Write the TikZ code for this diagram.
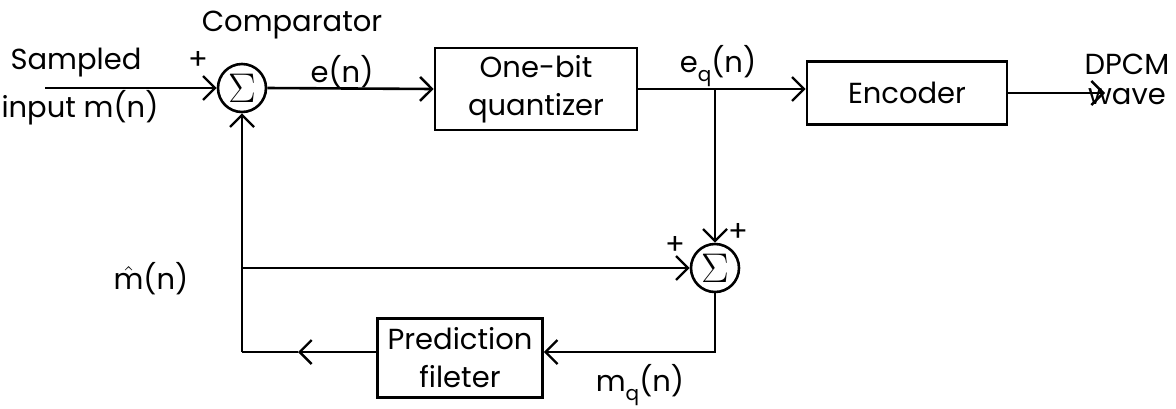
\documentclass[tikz,border=0pt]{standalone}
\usepackage{fontspec}
\setmainfont{Poppins}
\usetikzlibrary{arrows.meta}
\begin{document}
\begin{tikzpicture}[x=0.5pt,y=-0.5pt,
  font=\fontsize{14.5}{19}\selectfont,
  line width=1.3pt,
  blk/.style={draw, line width=1.3pt, inner sep=0pt, align=center},
  sumc/.style={draw, circle, minimum size=24pt, inner sep=0pt, font=\fontsize{21}{21}\selectfont},
  arr/.style={-{Straight Barb[length=6pt,width=12pt,line width=1.2pt]}},
  lbl/.style={inner sep=0pt, align=center}]
\useasboundingbox (0,0) rectangle (1176,408);

% blocks
\node[sumc] (s1) at (242,88) {$\Sigma$};
\node[blk, minimum width=101pt, minimum height=41pt] (q) at (536,89) {One-bit\\quantizer};
\node[blk, minimum width=100pt, minimum height=31.5pt] (enc) at (907,93) {Encoder};
\node[sumc] (s2) at (715,268) {$\Sigma$};
\node[blk, minimum width=82.5pt, minimum height=39.5pt] (pf) at (460,358) {Prediction\\fileter};

% coordinates
\coordinate (in) at (45,88);
\coordinate (out) at (1105,93);
\coordinate (cl) at (242,352);
\coordinate (ma) at (298,352);

% connectors
\draw[arr] (in) -- (s1.west);
\draw[arr] (s1.east) -- (q.west);
\draw[arr] (q.east) -- (q.east -| enc.west);
\draw[arr] (enc.east) -- (out);
\draw[arr] (q.east -| s2.north) -- (s2.north);
\draw[arr] (s2.south) |- ([yshift=3pt]pf.east);
\draw[arr] ([yshift=3pt]pf.west) -- (ma);
\draw (ma) -- (cl);
\draw[arr] (cl) -- (s1.south);
\draw[arr] (s1.south |- s2.west) -- (s2.west);

% labels
\node[lbl] (lcomp) at (292,25) {Comparator};
\node[lbl] (lp1) at (198,60) {+};
\node[lbl] (len) at (342,72) {e(n)};
\node[lbl] (lsamp) at (76,63) {Sampled};
\node[lbl] (linp) at (80,108) {input m(n)};
\node[lbl] (leq) at (718,66) {e\raisebox{-0.55ex}{\fontsize{10}{10}\selectfont q}(n)};
\node[lbl] (ldpcm) at (1127,64) {DPCM};
\node[lbl] (lwave) at (1127,97) {wave};
\node[lbl] (lp2) at (675,245) {+};
\node[lbl] (lp3) at (738,232) {+};
\node[lbl] (lmhat) at (151,279) {$\hat{\hbox{m}}$(n)};
\node[lbl] (lmq) at (640,385) {m\raisebox{-0.55ex}{\fontsize{10}{10}\selectfont q}(n)};
\end{tikzpicture}
\end{document}
